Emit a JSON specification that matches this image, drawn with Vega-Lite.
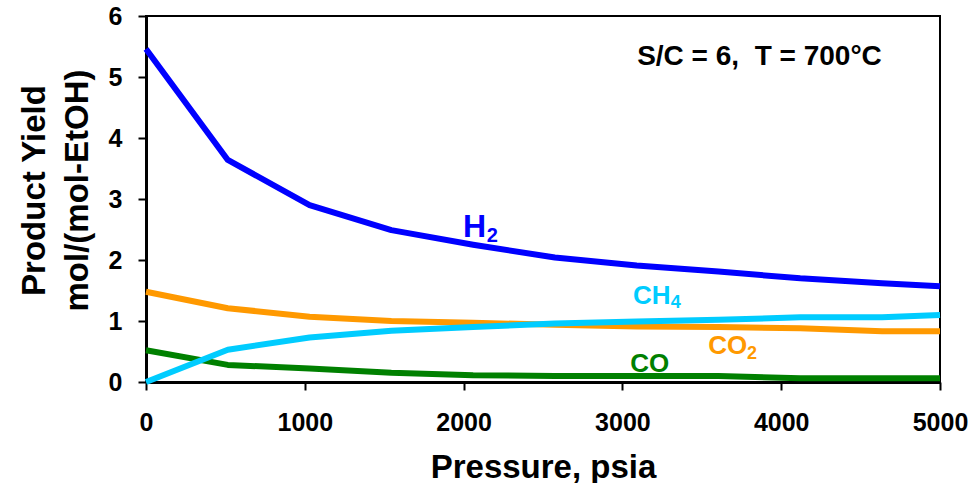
{
  "$schema": "https://vega.github.io/schema/vega-lite/v6.json",
  "width": 794,
  "height": 366,
  "autosize": {"type": "none"},
  "padding": {"left": 146, "top": 16, "right": 30, "bottom": 101},
  "background": "white",
  "config": {
    "font": "Liberation Sans",
    "view": {"stroke": "black", "strokeWidth": 2}
  },
  "datasets": {
    "lines": [
      {"series": "CO", "pressure": 0, "yield": 0.52},
      {"series": "CO", "pressure": 515, "yield": 0.28},
      {"series": "CO", "pressure": 1030, "yield": 0.22},
      {"series": "CO", "pressure": 1545, "yield": 0.15},
      {"series": "CO", "pressure": 2060, "yield": 0.11},
      {"series": "CO", "pressure": 2575, "yield": 0.10},
      {"series": "CO", "pressure": 3090, "yield": 0.10},
      {"series": "CO", "pressure": 3605, "yield": 0.10},
      {"series": "CO", "pressure": 4120, "yield": 0.06},
      {"series": "CO", "pressure": 4635, "yield": 0.06},
      {"series": "CO", "pressure": 5000, "yield": 0.06},
      {"series": "CO2", "pressure": 0, "yield": 1.48},
      {"series": "CO2", "pressure": 515, "yield": 1.21},
      {"series": "CO2", "pressure": 1030, "yield": 1.07},
      {"series": "CO2", "pressure": 1545, "yield": 1.0},
      {"series": "CO2", "pressure": 2060, "yield": 0.97},
      {"series": "CO2", "pressure": 2575, "yield": 0.94},
      {"series": "CO2", "pressure": 3090, "yield": 0.91},
      {"series": "CO2", "pressure": 3605, "yield": 0.90},
      {"series": "CO2", "pressure": 4120, "yield": 0.88},
      {"series": "CO2", "pressure": 4635, "yield": 0.83},
      {"series": "CO2", "pressure": 5000, "yield": 0.83},
      {"series": "H2", "pressure": 0, "yield": 5.46},
      {"series": "H2", "pressure": 515, "yield": 3.64},
      {"series": "H2", "pressure": 1030, "yield": 2.90},
      {"series": "H2", "pressure": 1545, "yield": 2.49},
      {"series": "H2", "pressure": 2060, "yield": 2.25},
      {"series": "H2", "pressure": 2575, "yield": 2.04},
      {"series": "H2", "pressure": 3090, "yield": 1.91},
      {"series": "H2", "pressure": 3605, "yield": 1.81},
      {"series": "H2", "pressure": 4120, "yield": 1.70},
      {"series": "H2", "pressure": 4635, "yield": 1.62},
      {"series": "H2", "pressure": 5000, "yield": 1.57},
      {"series": "CH4", "pressure": 0, "yield": 0.0},
      {"series": "CH4", "pressure": 515, "yield": 0.53},
      {"series": "CH4", "pressure": 1030, "yield": 0.73},
      {"series": "CH4", "pressure": 1545, "yield": 0.84},
      {"series": "CH4", "pressure": 2060, "yield": 0.90},
      {"series": "CH4", "pressure": 2575, "yield": 0.96},
      {"series": "CH4", "pressure": 3090, "yield": 0.99},
      {"series": "CH4", "pressure": 3605, "yield": 1.02},
      {"series": "CH4", "pressure": 4120, "yield": 1.06},
      {"series": "CH4", "pressure": 4635, "yield": 1.06},
      {"series": "CH4", "pressure": 5000, "yield": 1.10}
    ],
    "bigLabel": [{"series": "H2", "text": "H", "pressure": 1997, "yield": 2.377}],
    "bigSub": [{"series": "H2", "text": "2", "pressure": 2145, "yield": 2.295}],
    "smallLabel": [
      {"series": "CH4", "text": "CH", "pressure": 3067, "yield": 1.279},
      {"series": "CO2", "text": "CO", "pressure": 3540, "yield": 0.459},
      {"series": "CO", "text": "CO", "pressure": 3049, "yield": 0.164}
    ],
    "smallSub": [
      {"series": "CH4", "text": "4", "pressure": 3304, "yield": 1.213},
      {"series": "CO2", "text": "2", "pressure": 3785, "yield": 0.377}
    ],
    "note": [{"text": "S/C = 6,\u00a0 T = 700°C", "pressure": 3093, "yield": 5.197}]
  },
  "encoding": {
    "x": {
      "field": "pressure", "type": "quantitative",
      "scale": {"domain": [0, 5000], "nice": false, "zero": false},
      "axis": {
        "title": "Pressure, psia",
        "values": [0, 1000, 2000, 3000, 4000, 5000],
        "format": "d",
        "grid": false,
        "labelFlush": false,
        "labelOverlap": false,
        "labelFont": "Liberation Sans",
        "labelFontSize": 25,
        "labelFontWeight": "bold",
        "labelColor": "black",
        "labelPadding": 20,
        "tickSize": 8,
        "tickColor": "black",
        "tickWidth": 2,
        "domainColor": "black",
        "domainWidth": 3,
        "titleFont": "Liberation Sans",
        "titleFontSize": 33,
        "titleFontWeight": "bold",
        "titleColor": "black",
        "titleBaseline": "alphabetic",
        "titleY": 95
      }
    },
    "y": {
      "field": "yield", "type": "quantitative",
      "scale": {"domain": [0, 6], "nice": false},
      "axis": {
        "title": ["Product Yield", "mol/(mol-EtOH)"],
        "values": [0, 1, 2, 3, 4, 5, 6],
        "grid": false,
        "labelFlush": false,
        "labelOverlap": false,
        "labelFont": "Liberation Sans",
        "labelFontSize": 25,
        "labelFontWeight": "bold",
        "labelColor": "black",
        "labelPadding": 16,
        "tickSize": 8,
        "tickColor": "black",
        "tickWidth": 2,
        "domainColor": "black",
        "domainWidth": 3,
        "titleFont": "Liberation Sans",
        "titleFontSize": 33,
        "titleFontWeight": "bold",
        "titleColor": "black",
        "titleLineHeight": 43,
        "titleAngle": -90,
        "titleAlign": "center",
        "titleBaseline": "alphabetic",
        "titleX": -102,
        "titleY": 174
      }
    },
    "color": {
      "field": "series", "type": "nominal",
      "scale": {"domain": ["H2", "CH4", "CO2", "CO"], "range": ["#0000FF", "#00CCFF", "#FF9900", "#008000"]},
      "legend": null
    }
  },
  "layer": [
    {
      "data": {"name": "lines"},
      "mark": {"type": "line", "strokeWidth": 6, "strokeJoin": "round", "strokeCap": "butt"}
    },
    {
      "data": {"name": "bigLabel"},
      "mark": {"type": "text", "align": "left", "baseline": "alphabetic", "fontSize": 32, "fontWeight": "bold", "font": "Liberation Sans"},
      "encoding": {"text": {"field": "text"}}
    },
    {
      "data": {"name": "bigSub"},
      "mark": {"type": "text", "align": "left", "baseline": "alphabetic", "fontSize": 20, "fontWeight": "bold", "font": "Liberation Sans"},
      "encoding": {"text": {"field": "text"}}
    },
    {
      "data": {"name": "smallLabel"},
      "mark": {"type": "text", "align": "left", "baseline": "alphabetic", "fontSize": 26, "fontWeight": "bold", "font": "Liberation Sans"},
      "encoding": {"text": {"field": "text"}}
    },
    {
      "data": {"name": "smallSub"},
      "mark": {"type": "text", "align": "left", "baseline": "alphabetic", "fontSize": 18, "fontWeight": "bold", "font": "Liberation Sans"},
      "encoding": {"text": {"field": "text"}}
    },
    {
      "data": {"name": "note"},
      "mark": {"type": "text", "align": "left", "baseline": "alphabetic", "fontSize": 28, "fontWeight": "bold", "font": "Liberation Sans", "color": "black"},
      "encoding": {"text": {"field": "text"}, "color": {"value": "black"}}
    }
  ]
}
